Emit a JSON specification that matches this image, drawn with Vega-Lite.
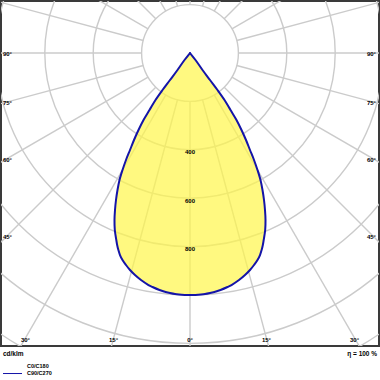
{
  "$schema": "https://vega.github.io/schema/vega-lite/v6.json",
  "width": 378,
  "height": 345,
  "autosize": {"type": "none"},
  "padding": {"left": 1, "top": 1, "right": 1, "bottom": 34},
  "background": "white",
  "config": {"view": {"stroke": "#3a3a3a", "strokeWidth": 2}, "text": {"font": "Liberation Sans", "fontSize": 6, "fontWeight": "bold", "color": "#000000"}},
  "datasets": {
    "rings": [{"r": 200}, {"r": 400}, {"r": 600}, {"r": 800}, {"r": 1000}, {"r": 1200}, {"r": 1400}, {"r": 1600}],
    "spokes": [
      {"a": 0, "x": 0, "y": -200, "x2": 0, "y2": -1600},
      {"a": 15, "x": 51.76, "y": -193.19, "x2": 414.1, "y2": -1545.5},
      {"a": 30, "x": 100, "y": -173.21, "x2": 800, "y2": -1385.6},
      {"a": 45, "x": 141.42, "y": -141.42, "x2": 1131.4, "y2": -1131.4},
      {"a": 60, "x": 173.21, "y": -100, "x2": 1385.6, "y2": -800},
      {"a": 75, "x": 193.19, "y": -51.76, "x2": 1545.5, "y2": -414.1},
      {"a": 90, "x": 200, "y": 0, "x2": 1600, "y2": 0},
      {"a": 105, "x": 193.19, "y": 51.76, "x2": 1545.5, "y2": 414.1},
      {"a": 120, "x": 173.21, "y": 100, "x2": 1385.6, "y2": 800},
      {"a": 135, "x": 141.42, "y": 141.42, "x2": 1131.4, "y2": 1131.4},
      {"a": 150, "x": 100, "y": 173.21, "x2": 800, "y2": 1385.6},
      {"a": 165, "x": 51.76, "y": 193.19, "x2": 414.1, "y2": 1545.5},
      {"a": 180, "x": 0, "y": 200, "x2": 0, "y2": 1600},
      {"a": 195, "x": -51.76, "y": 193.19, "x2": -414.1, "y2": 1545.5},
      {"a": 210, "x": -100, "y": 173.21, "x2": -800, "y2": 1385.6},
      {"a": 225, "x": -141.42, "y": 141.42, "x2": -1131.4, "y2": 1131.4},
      {"a": 240, "x": -173.21, "y": 100, "x2": -1385.6, "y2": 800},
      {"a": 255, "x": -193.19, "y": 51.76, "x2": -1545.5, "y2": 414.1},
      {"a": 270, "x": -200, "y": 0, "x2": -1600, "y2": 0},
      {"a": 285, "x": -193.19, "y": -51.76, "x2": -1545.5, "y2": -414.1},
      {"a": 300, "x": -173.21, "y": -100, "x2": -1385.6, "y2": -800},
      {"a": 315, "x": -141.42, "y": -141.42, "x2": -1131.4, "y2": -1131.4},
      {"a": 330, "x": -100, "y": -173.21, "x2": -800, "y2": -1385.6},
      {"a": 345, "x": -51.76, "y": -193.19, "x2": -414.1, "y2": -1545.5}
    ],
    "curve": [
      {"y": 0, "xl": 0, "xr": 0},
      {"y": -28.9, "xl": -22.7, "xr": 22.7},
      {"y": -70.2, "xl": -51.7, "xr": 51.7},
      {"y": -111.6, "xl": -82.6, "xr": 82.6},
      {"y": -152.9, "xl": -113.6, "xr": 113.6},
      {"y": -194.2, "xl": -142.6, "xr": 142.6},
      {"y": -235.5, "xl": -167.4, "xr": 167.4},
      {"y": -276.9, "xl": -192.1, "xr": 192.1},
      {"y": -318.2, "xl": -212.8, "xr": 212.8},
      {"y": -359.5, "xl": -231.4, "xr": 231.4},
      {"y": -400.8, "xl": -247.9, "xr": 247.9},
      {"y": -442.1, "xl": -264.5, "xr": 264.5},
      {"y": -483.5, "xl": -278.9, "xr": 278.9},
      {"y": -524.8, "xl": -291.3, "xr": 291.3},
      {"y": -566.1, "xl": -299.6, "xr": 299.6},
      {"y": -607.4, "xl": -305.8, "xr": 305.8},
      {"y": -648.8, "xl": -309.9, "xr": 309.9},
      {"y": -690.1, "xl": -312.0, "xr": 312.0},
      {"y": -731.4, "xl": -310.7, "xr": 310.7},
      {"y": -772.7, "xl": -304.5, "xr": 304.5},
      {"y": -793.4, "xl": -301.0, "xr": 301.0},
      {"y": -814.0, "xl": -296.0, "xr": 296.0},
      {"y": -834.7, "xl": -289.3, "xr": 289.3},
      {"y": -855.4, "xl": -278.9, "xr": 278.9},
      {"y": -876.0, "xl": -264.5, "xr": 264.5},
      {"y": -896.7, "xl": -247.9, "xr": 247.9},
      {"y": -917.4, "xl": -227.3, "xr": 227.3},
      {"y": -938.0, "xl": -202.5, "xr": 202.5},
      {"y": -958.7, "xl": -171.5, "xr": 171.5},
      {"y": -967.0, "xl": -155.0, "xr": 155.0},
      {"y": -979.3, "xl": -126.0, "xr": 126.0},
      {"y": -985.5, "xl": -107.4, "xr": 107.4},
      {"y": -991.7, "xl": -82.6, "xr": 82.6},
      {"y": -995.9, "xl": -62.0, "xr": 62.0},
      {"y": -997.9, "xl": -45.5, "xr": 45.5},
      {"y": -999.5, "xl": -22.0, "xr": 22.0},
      {"y": -1000, "xl": 0, "xr": 0}
    ],
    "leftLabels": [
      {"lab": "90°", "x": -773, "y": -4.1},
      {"lab": "75°", "x": -773, "y": -206.6},
      {"lab": "60°", "x": -773, "y": -442.1},
      {"lab": "45°", "x": -773, "y": -760.3}
    ],
    "rightLabels": [
      {"lab": "90°", "x": 768.6, "y": -4.1},
      {"lab": "75°", "x": 768.6, "y": -206.6},
      {"lab": "60°", "x": 768.6, "y": -442.1},
      {"lab": "45°", "x": 768.6, "y": -760.3}
    ],
    "bottomLabels": [
      {"lab": "30°", "x": -680, "y": -1186},
      {"lab": "15°", "x": -316, "y": -1186},
      {"lab": "0°", "x": 0, "y": -1186},
      {"lab": "15°", "x": 316, "y": -1186},
      {"lab": "30°", "x": 680, "y": -1186}
    ],
    "values": [
      {"lab": "400", "x": 0, "y": -409},
      {"lab": "600", "x": 0, "y": -611.6},
      {"lab": "800", "x": 0, "y": -810}
    ],
    "one": [{}]
  },
  "layer": [
    {
      "data": {"name": "rings"},
      "mark": {"type": "arc", "filled": false, "stroke": "#cbcbcb", "strokeWidth": 1.4, "theta": 0, "theta2": 6.2832, "clip": true},
      "encoding": {
        "x": {"datum": 0, "type": "quantitative", "scale": {"domain": [-781, 781], "nice": false, "zero": false}, "axis": null},
        "y": {"datum": 0, "type": "quantitative", "scale": {"domain": [-1210.7, 214.9], "nice": false, "zero": false}, "axis": null},
        "radius": {"field": "r", "type": "quantitative", "stack": null, "scale": {"type": "linear", "domain": [0, 1000], "range": [0, 242], "zero": true}}
      }
    },
    {
      "data": {"name": "spokes"},
      "mark": {"type": "rule", "stroke": "#cbcbcb", "strokeWidth": 1.4, "clip": true},
      "encoding": {
        "x": {"field": "x", "type": "quantitative", "scale": {"domain": [-781, 781], "nice": false, "zero": false}, "axis": null},
        "y": {"field": "y", "type": "quantitative", "scale": {"domain": [-1210.7, 214.9], "nice": false, "zero": false}, "axis": null},
        "x2": {"field": "x2"},
        "y2": {"field": "y2"}
      }
    },
    {
      "data": {"name": "curve"},
      "mark": {"type": "area", "orient": "horizontal", "color": "#fff64a", "opacity": 0.7, "interpolate": "catmull-rom"},
      "encoding": {
        "y": {"field": "y", "type": "quantitative", "scale": {"domain": [-1210.7, 214.9], "nice": false, "zero": false}, "axis": null},
        "x": {"field": "xl", "type": "quantitative", "scale": {"domain": [-781, 781], "nice": false, "zero": false}, "axis": null},
        "x2": {"field": "xr"}
      }
    },
    {
      "data": {"name": "curve"},
      "mark": {"type": "line", "color": "#1414a8", "strokeWidth": 2, "strokeJoin": "round", "strokeCap": "round", "interpolate": "catmull-rom"},
      "encoding": {
        "x": {"field": "xl", "type": "quantitative", "scale": {"domain": [-781, 781], "nice": false, "zero": false}, "axis": null},
        "y": {"field": "y", "type": "quantitative", "scale": {"domain": [-1210.7, 214.9], "nice": false, "zero": false}, "axis": null},
        "order": {"field": "y", "type": "quantitative"}
      }
    },
    {
      "data": {"name": "curve"},
      "mark": {"type": "line", "color": "#1414a8", "strokeWidth": 2, "strokeJoin": "round", "strokeCap": "round", "interpolate": "catmull-rom"},
      "encoding": {
        "x": {"field": "xr", "type": "quantitative", "scale": {"domain": [-781, 781], "nice": false, "zero": false}, "axis": null},
        "y": {"field": "y", "type": "quantitative", "scale": {"domain": [-1210.7, 214.9], "nice": false, "zero": false}, "axis": null},
        "order": {"field": "y", "type": "quantitative"}
      }
    },
    {
      "data": {"name": "values"},
      "mark": {"type": "text", "align": "center", "baseline": "middle"},
      "encoding": {
        "x": {"field": "x", "type": "quantitative", "scale": {"domain": [-781, 781], "nice": false, "zero": false}, "axis": null},
        "y": {"field": "y", "type": "quantitative", "scale": {"domain": [-1210.7, 214.9], "nice": false, "zero": false}, "axis": null},
        "text": {"field": "lab"}
      }
    },
    {
      "data": {"name": "leftLabels"},
      "mark": {"type": "text", "align": "left", "baseline": "middle"},
      "encoding": {
        "x": {"field": "x", "type": "quantitative", "scale": {"domain": [-781, 781], "nice": false, "zero": false}, "axis": null},
        "y": {"field": "y", "type": "quantitative", "scale": {"domain": [-1210.7, 214.9], "nice": false, "zero": false}, "axis": null},
        "text": {"field": "lab"}
      }
    },
    {
      "data": {"name": "rightLabels"},
      "mark": {"type": "text", "align": "right", "baseline": "middle"},
      "encoding": {
        "x": {"field": "x", "type": "quantitative", "scale": {"domain": [-781, 781], "nice": false, "zero": false}, "axis": null},
        "y": {"field": "y", "type": "quantitative", "scale": {"domain": [-1210.7, 214.9], "nice": false, "zero": false}, "axis": null},
        "text": {"field": "lab"}
      }
    },
    {
      "data": {"name": "bottomLabels"},
      "mark": {"type": "text", "align": "center", "baseline": "middle"},
      "encoding": {
        "x": {"field": "x", "type": "quantitative", "scale": {"domain": [-781, 781], "nice": false, "zero": false}, "axis": null},
        "y": {"field": "y", "type": "quantitative", "scale": {"domain": [-1210.7, 214.9], "nice": false, "zero": false}, "axis": null},
        "text": {"field": "lab"}
      }
    },
    {
      "data": {"name": "one"},
      "mark": {"type": "text", "align": "left", "baseline": "middle", "fontSize": 6.5},
      "encoding": {
        "x": {"datum": -773, "type": "quantitative", "scale": {"domain": [-781, 781], "nice": false, "zero": false}, "axis": null},
        "y": {"datum": -1243.8, "type": "quantitative", "scale": {"domain": [-1210.7, 214.9], "nice": false, "zero": false}, "axis": null},
        "text": {"value": "cd/klm"}
      }
    },
    {
      "data": {"name": "one"},
      "mark": {"type": "text", "align": "right", "baseline": "middle", "fontSize": 6.5},
      "encoding": {
        "x": {"datum": 773, "type": "quantitative", "scale": {"domain": [-781, 781], "nice": false, "zero": false}, "axis": null},
        "y": {"datum": -1243.8, "type": "quantitative", "scale": {"domain": [-1210.7, 214.9], "nice": false, "zero": false}, "axis": null},
        "text": {"value": "η = 100 %"}
      }
    },
    {
      "data": {"name": "one"},
      "mark": {"type": "text", "align": "left", "baseline": "middle", "fontSize": 5.5},
      "encoding": {
        "x": {"datum": -673.6, "type": "quantitative", "scale": {"domain": [-781, 781], "nice": false, "zero": false}, "axis": null},
        "y": {"datum": -1291.3, "type": "quantitative", "scale": {"domain": [-1210.7, 214.9], "nice": false, "zero": false}, "axis": null},
        "text": {"value": "C0/C180"}
      }
    },
    {
      "data": {"name": "one"},
      "mark": {"type": "text", "align": "left", "baseline": "middle", "fontSize": 5.5},
      "encoding": {
        "x": {"datum": -673.6, "type": "quantitative", "scale": {"domain": [-781, 781], "nice": false, "zero": false}, "axis": null},
        "y": {"datum": -1322.3, "type": "quantitative", "scale": {"domain": [-1210.7, 214.9], "nice": false, "zero": false}, "axis": null},
        "text": {"value": "C90/C270"}
      }
    },
    {
      "data": {"name": "one"},
      "mark": {"type": "rule", "color": "#1414a8", "strokeWidth": 1},
      "encoding": {
        "x": {"datum": -772.7, "type": "quantitative", "scale": {"domain": [-781, 781], "nice": false, "zero": false}, "axis": null},
        "x2": {"datum": -694.2},
        "y": {"datum": -1324.4, "type": "quantitative", "scale": {"domain": [-1210.7, 214.9], "nice": false, "zero": false}, "axis": null}
      }
    }
  ]
}
